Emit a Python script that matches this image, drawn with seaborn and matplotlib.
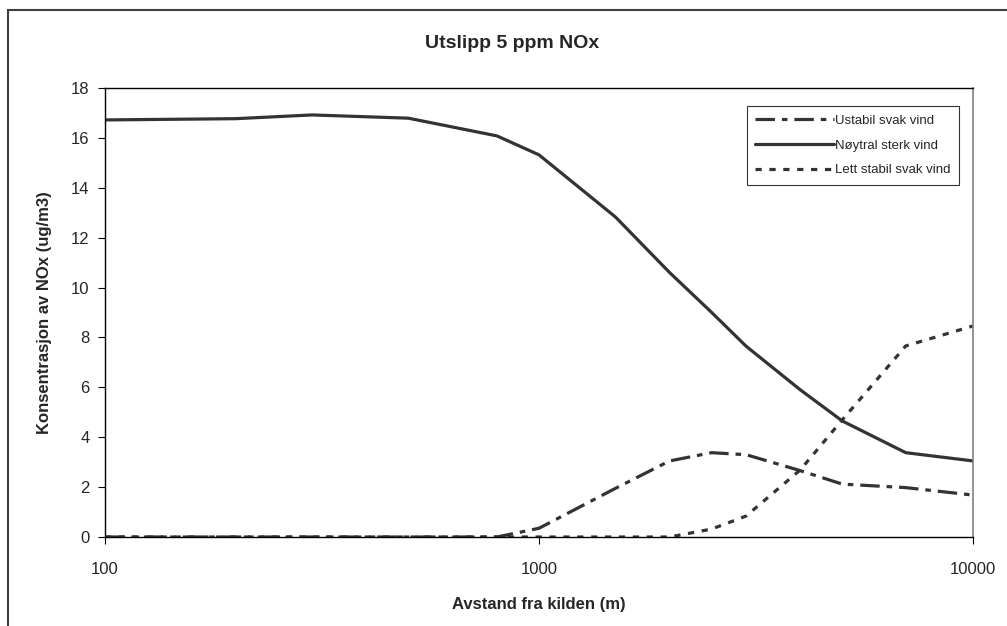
import matplotlib
matplotlib.use("Agg")
import matplotlib.pyplot as plt
import seaborn as sns
import pandas as pd
from matplotlib.patches import Rectangle
from matplotlib.lines import Line2D

# Data
distance = [100, 200, 300, 500, 800, 1000, 1500, 2000, 2500, 3000, 4000, 5000, 7000, 10000]
ustabil = [0, 0, 0, 0, 0, 0.35, 1.95, 3.05, 3.38, 3.3, 2.66, 2.12, 1.98, 1.68]
noytral = [16.72, 16.77, 16.92, 16.79, 16.08, 15.32, 12.83, 10.6, 9.0, 7.65, 5.9, 4.65, 3.38, 3.05]
lett = [0, 0, 0, 0, 0, 0, 0, 0, 0.32, 0.84, 2.69, 4.7, 7.66, 8.46]
series_names = ["Ustabil svak vind", "Nøytral sterk vind", "Lett stabil svak vind"]
title = "Utslipp 5 ppm NOx"
xlabel = "Avstand fra kilden (m)"
ylabel = "Konsentrasjon av NOx (ug/m3)"

sns.set_theme(style="white")
plt.rcParams['font.family'] = ['Liberation Sans', 'DejaVu Sans']
plt.rcParams['lines.scale_dashes'] = False

df = pd.DataFrame({
    "x": distance * 3,
    "y": ustabil + noytral + lett,
    "serie": [series_names[0]] * len(distance) + [series_names[1]] * len(distance) + [series_names[2]] * len(distance),
})

W, H = 1007, 626
fig = plt.figure(figsize=(W / 100, H / 100), dpi=100)
ax = fig.add_axes([105 / W, 1 - 537 / H, (973 - 105) / W, (537 - 88) / H])

line_color = "#333333"
dashes = {
    series_names[0]: (14, 5, 4, 5),
    series_names[1]: "",
    series_names[2]: (4.5, 5.5),
}
sns.lineplot(data=df, x="x", y="y", style="serie", dashes=dashes, color=line_color,
             linewidth=2.3, ax=ax, legend=False, estimator=None, sort=False)

ax.set_xscale("log")
ax.set_xlim(100, 10000)
ax.set_ylim(0, 18)
ax.set_xticks([100, 1000, 10000])
ax.set_xticklabels(["100", "1000", "10000"])
ax.xaxis.set_minor_locator(matplotlib.ticker.NullLocator())
ax.set_yticks(range(0, 19, 2))
ax.tick_params(axis="both", which="major", labelsize=12, length=5, width=0.8,
               color="black", direction="out", left=True, bottom=True, pad=6)
ax.tick_params(axis="x", pad=13)

for side in ["left", "bottom", "top"]:
    ax.spines[side].set_color("black")
    ax.spines[side].set_linewidth(1.0)
ax.spines["right"].set_color("#808080")
ax.spines["right"].set_linewidth(1.2)

ax.set_xlabel(xlabel, fontsize=12, fontweight="bold", labelpad=14.5)
ax.set_ylabel(ylabel, fontsize=12, fontweight="bold", labelpad=14)
fig.text(512 / W, 1 - 43 / H, title, fontsize=14, fontweight="bold", ha="center", va="center")

handles = [
    Line2D([], [], color=line_color, lw=2.3, dashes=dashes[series_names[0]]),
    Line2D([], [], color=line_color, lw=2.3),
    Line2D([], [], color=line_color, lw=2.3, dashes=dashes[series_names[2]]),
]
leg = ax.legend(handles, series_names, loc="upper right", bbox_to_anchor=((959 - 105) / (973 - 105), 1 - (106 - 88) / (537 - 88)),
                fontsize=9.5, frameon=True, fancybox=False, handlelength=6.0, handletextpad=0.05,
                borderpad=0.65, labelspacing=0.95, borderaxespad=0)
leg.get_frame().set_edgecolor("black")
leg.get_frame().set_linewidth(0.8)

# figure border
fig.patches.append(Rectangle((8 / W, -0.1), 1.2, 1 - 10 / H + 0.1, transform=fig.transFigure,
                             fill=False, edgecolor="#404040", linewidth=1.5))

fig.savefig("out.png", dpi=100)
